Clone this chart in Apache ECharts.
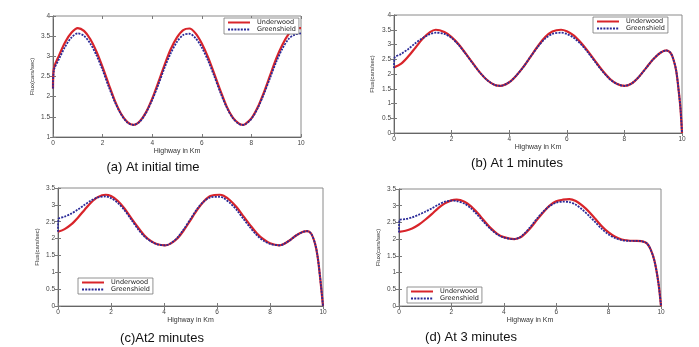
<!DOCTYPE html>
<html><head><meta charset="utf-8">
<script src="https://cdn.jsdelivr.net/npm/echarts@6/dist/echarts.min.js"></script>
<style>html,body{margin:0;padding:0;background:#fff}#c{width:699px;height:347px}</style>
</head><body><div id="c"></div>
<script>
// ---- data ----
const seriesNames = ['Underwood', 'Greenshield'];
const captions = ['(a) At initial time', '(b) At 1 minutes', '(c)At2 minutes', '(d) At 3 minutes'];

const xA = [0,0.03,0.25,0.5,0.75,1,1.25,1.5,1.75,2,2.25,2.5,2.75,3,3.25,3.5,3.75,4,4.25,4.5,4.75,5,5.25,5.5,5.75,6,6.25,6.5,6.75,7,7.25,7.5,7.65,7.75,8,8.25,8.5,8.75,9,9.25,9.5,9.75,10];
const underwoodA = [2.2,2.68,3.03,3.36,3.59,3.7,3.63,3.43,3.12,2.73,2.3,1.89,1.57,1.37,1.3,1.39,1.61,1.95,2.36,2.79,3.18,3.47,3.65,3.69,3.57,3.32,2.98,2.57,2.15,1.76,1.48,1.33,1.3,1.32,1.46,1.73,2.1,2.52,2.94,3.29,3.55,3.7,3.7];
const greenshieldA = [2.2,2.64,2.94,3.25,3.47,3.57,3.51,3.32,3.03,2.66,2.24,1.86,1.56,1.36,1.3,1.38,1.6,1.92,2.3,2.72,3.08,3.36,3.53,3.56,3.45,3.22,2.9,2.51,2.1,1.74,1.47,1.32,1.3,1.31,1.45,1.71,2.06,2.46,2.86,3.19,3.43,3.54,3.57];

const xB = [0,0.02,0.25,0.5,0.75,1,1.25,1.45,1.75,2,2.25,2.5,2.75,3,3.25,3.5,3.7,4,4.25,4.5,4.75,5,5.25,5.5,5.8,6,6.25,6.5,6.75,7,7.25,7.5,7.75,8,8.25,8.5,8.75,9,9.25,9.45,9.6,9.7,9.8,9.9,9.95,10];
const underwoodB = [2.22,2.23,2.35,2.6,2.9,3.2,3.42,3.5,3.42,3.25,3.0,2.68,2.35,2.03,1.78,1.63,1.6,1.72,1.95,2.25,2.6,2.95,3.25,3.44,3.5,3.45,3.3,3.05,2.75,2.42,2.1,1.83,1.66,1.6,1.68,1.9,2.2,2.5,2.72,2.8,2.72,2.5,2.1,1.3,0.8,0];
const greenshieldB = [2.2,2.55,2.68,2.85,3.05,3.22,3.35,3.4,3.36,3.22,2.98,2.67,2.34,2.03,1.78,1.63,1.6,1.72,1.95,2.25,2.6,2.93,3.2,3.36,3.4,3.36,3.22,3.0,2.71,2.39,2.08,1.82,1.66,1.6,1.68,1.9,2.2,2.5,2.72,2.8,2.72,2.5,2.1,1.3,0.8,0];

const xC = [0,0.02,0.25,0.5,0.75,1,1.25,1.5,1.8,2,2.25,2.5,2.75,3,3.25,3.5,3.75,4.05,4.25,4.5,4.75,5,5.25,5.5,5.75,6.1,6.25,6.5,6.75,7,7.25,7.5,7.75,8,8.35,8.5,8.75,9,9.25,9.4,9.55,9.7,9.8,9.9,10];
const underwoodC = [2.2,2.21,2.28,2.42,2.62,2.85,3.07,3.23,3.3,3.26,3.12,2.9,2.62,2.35,2.1,1.93,1.83,1.8,1.85,2.0,2.25,2.55,2.85,3.1,3.26,3.3,3.27,3.13,2.92,2.66,2.4,2.16,1.98,1.86,1.8,1.83,1.95,2.1,2.2,2.22,2.15,1.85,1.45,0.78,0];
const greenshieldC = [2.2,2.58,2.65,2.74,2.86,3.0,3.13,3.22,3.25,3.2,3.06,2.85,2.58,2.3,2.07,1.92,1.83,1.8,1.86,2.02,2.28,2.58,2.88,3.1,3.22,3.24,3.2,3.05,2.84,2.58,2.33,2.1,1.94,1.84,1.8,1.83,1.95,2.1,2.2,2.22,2.15,1.85,1.45,0.78,0];

const xD = [0,0.02,0.25,0.5,0.75,1,1.25,1.5,1.75,2,2.2,2.5,2.75,3,3.25,3.5,3.75,4,4.4,4.6,4.75,5,5.25,5.5,5.75,6,6.25,6.5,6.75,7,7.25,7.5,7.75,8,8.25,8.5,8.75,9,9.25,9.45,9.6,9.75,9.9,10];
const underwoodD = [2.22,2.22,2.25,2.32,2.43,2.58,2.75,2.93,3.07,3.16,3.18,3.12,2.98,2.78,2.55,2.33,2.16,2.06,2.0,2.04,2.12,2.32,2.56,2.8,3.0,3.13,3.18,3.2,3.14,3.0,2.82,2.6,2.38,2.2,2.07,1.99,1.96,1.95,1.94,1.88,1.7,1.35,0.7,0];
const greenshieldD = [2.2,2.57,2.6,2.65,2.73,2.82,2.92,3.03,3.12,3.15,3.14,3.06,2.92,2.72,2.5,2.3,2.14,2.05,2.0,2.05,2.14,2.35,2.6,2.82,2.99,3.09,3.12,3.11,3.03,2.88,2.7,2.5,2.3,2.14,2.03,1.97,1.95,1.95,1.94,1.88,1.7,1.35,0.7,0];

const yMin = [1, 0, 0, 0];
const yMax = [4, 4, 3.5, 3.5];
const yInterval = [0.5, 0.5, 0.5, 0.5];
const xAxisName = 'Highway in Km';
const yAxisName = 'Flux(cars/sec)';

// ---- layout ----
const grids = [
  {left: 53, top: 16, width: 248, height: 121},
  {left: 394, top: 15, width: 288, height: 118},
  {left: 58, top: 188, width: 265, height: 118},
  {left: 399, top: 189, width: 262, height: 117}
];
const legendPos = [
  {left: 224, top: 18},
  {left: 593, top: 17},
  {left: 78, top: 278},
  {left: 407, top: 287}
];
const captionPos = [[153, 167], [517, 163], [162, 338], [471, 337]];
const panels = [[xA, underwoodA, greenshieldA], [xB, underwoodB, greenshieldB], [xC, underwoodC, greenshieldC], [xD, underwoodD, greenshieldD]];

const RED = '#d8242a', BLUE = '#2a2a98', AX = '#7a7a7a';
const labelFont = {fontSize: 6.5, color: '#444', fontFamily: 'Liberation Sans'};

const option = {
  animation: false,
  backgroundColor: '#fff',
  grid: grids.map(g => Object.assign({show: true, borderColor: '#8a8a8a', borderWidth: 1, backgroundColor: 'transparent'}, g)),
  xAxis: [], yAxis: [], series: [], legend: [], graphic: []
};

for (let i = 0; i < 4; i++) {
  option.xAxis.push({
    type: 'value', gridIndex: i, min: 0, max: 10, interval: 2,
    name: xAxisName, nameLocation: 'middle', nameGap: 10,
    nameTextStyle: {fontSize: 7, color: '#333', fontFamily: 'Liberation Sans'},
    axisLine: {show: true, lineStyle: {color: '#666', width: 1}},
    axisTick: {show: true, inside: true, length: 3, lineStyle: {color: AX}},
    axisLabel: Object.assign({margin: 3}, labelFont),
    splitLine: {show: false}
  });
  option.yAxis.push({
    type: 'value', gridIndex: i, min: yMin[i], max: yMax[i], interval: yInterval[i],
    name: yAxisName, nameLocation: 'middle', nameGap: i === 1 ? 19 : 18,
    nameTextStyle: {fontSize: 6, color: '#333', fontFamily: 'Liberation Sans Narrow, Liberation Sans'},
    axisLine: {show: true, lineStyle: {color: '#666', width: 1}},
    axisTick: {show: true, inside: true, length: 3, lineStyle: {color: AX}},
    axisLabel: Object.assign({margin: 3}, labelFont),
    splitLine: {show: false}
  });
}
// mirrored ticks on top/right (MATLAB box style)
for (let i = 0; i < 4; i++) {
  option.xAxis.push({
    type: 'value', gridIndex: i, min: 0, max: 10, interval: 2, position: 'top',
    axisLine: {show: false}, axisLabel: {show: false}, splitLine: {show: false},
    axisTick: {show: true, inside: true, length: 3, lineStyle: {color: AX}}
  });
  option.yAxis.push({
    type: 'value', gridIndex: i, min: yMin[i], max: yMax[i], interval: yInterval[i], position: 'right',
    axisLine: {show: false}, axisLabel: {show: false}, splitLine: {show: false},
    axisTick: {show: true, inside: true, length: 3, lineStyle: {color: AX}}
  });
}

for (let i = 0; i < 4; i++) {
  const [xs, u, g] = panels[i];
  option.series.push({
    name: seriesNames[0], type: 'line', xAxisIndex: i, yAxisIndex: i,
    data: xs.map((x, k) => [x, u[k]]), showSymbol: false, symbol: 'none',
    smooth: 0.3,
    lineStyle: {color: RED, width: 2.2}, itemStyle: {color: RED}
  });
  option.series.push({
    name: seriesNames[1], type: 'line', xAxisIndex: i, yAxisIndex: i,
    data: xs.map((x, k) => [x, g[k]]), showSymbol: false, symbol: 'none',
    smooth: 0.3,
    lineStyle: {color: BLUE, width: 1.8, type: [2, 1.2]}, itemStyle: {color: BLUE}
  });
  option.legend.push(Object.assign({
    orient: 'vertical', data: seriesNames, itemWidth: 22, itemHeight: 4, itemGap: 0,
    padding: [1, 3, 1, 3], backgroundColor: '#fff', borderColor: '#777', borderWidth: 0.8,
    borderRadius: 0, selectedMode: false,
    itemStyle: {opacity: 0},
    textStyle: {fontSize: 6.5, lineHeight: 6.5, color: '#222', fontFamily: 'DejaVu Sans', padding: [0, 0, 0, 2]}
  }, legendPos[i]));
  option.graphic.push({
    type: 'text', x: captionPos[i][0], y: captionPos[i][1],
    style: {text: captions[i], fontSize: 13, fill: '#111', align: 'center', verticalAlign: 'middle',
      font: '13px "Liberation Sans Narrow", "Roboto", sans-serif'}
  });
}

const chart = echarts.init(document.getElementById('c'), null, {renderer: 'canvas'});
chart.setOption(option);
</script>
</body></html>
